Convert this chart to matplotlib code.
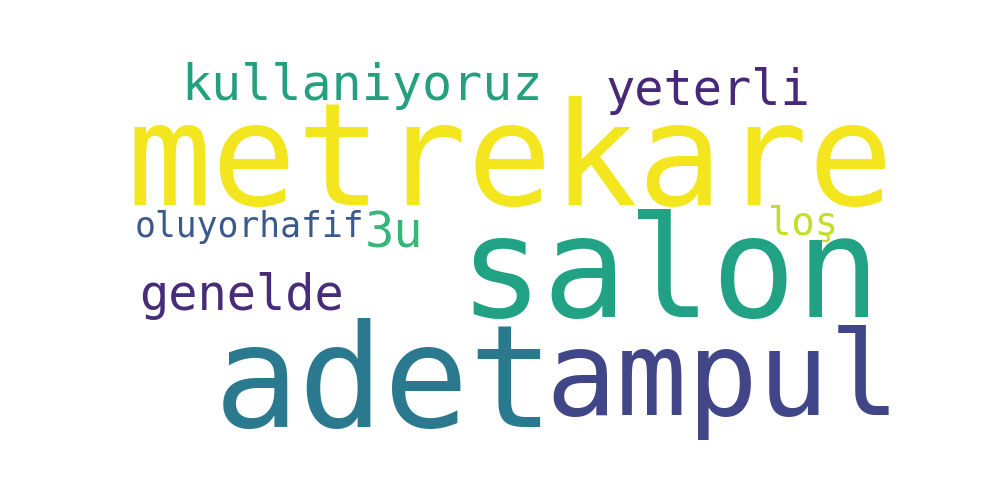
import matplotlib.pyplot as plt

words = ["metrekare", "salon", "adet", "ampul", "kullaniyoruz", "yeterli",
         "genelde", "oluyorhafif", "3u", "loş"]
sizes = [102, 101, 102, 85, 36, 35, 35, 25, 35, 28]
colors = ["#f4e61e", "#22a285", "#2a798e", "#404688", "#24a07f", "#482878",
          "#472c7a", "#3b5a8c", "#35b779", "#c2df23"]
# left x / baseline y in pixels
pos_x = [126, 458, 214, 545, 181, 606, 139, 135, 365, 768]
pos_y = [205, 317, 427, 415, 100, 105, 310, 237, 247, 235]

fig = plt.figure(figsize=(10, 5), dpi=100)
ax = fig.add_axes([0, 0, 1, 1])
ax.set_xlim(0, 1000)
ax.set_ylim(500, 0)
ax.axis("off")

for w, s, c, x, y in zip(words, sizes, colors, pos_x, pos_y):
    ax.text(x, y, w, fontsize=s, color=c, family="DejaVu Sans Mono",
            ha="left", va="baseline")

fig.savefig("out.png", dpi=100, facecolor="white")
